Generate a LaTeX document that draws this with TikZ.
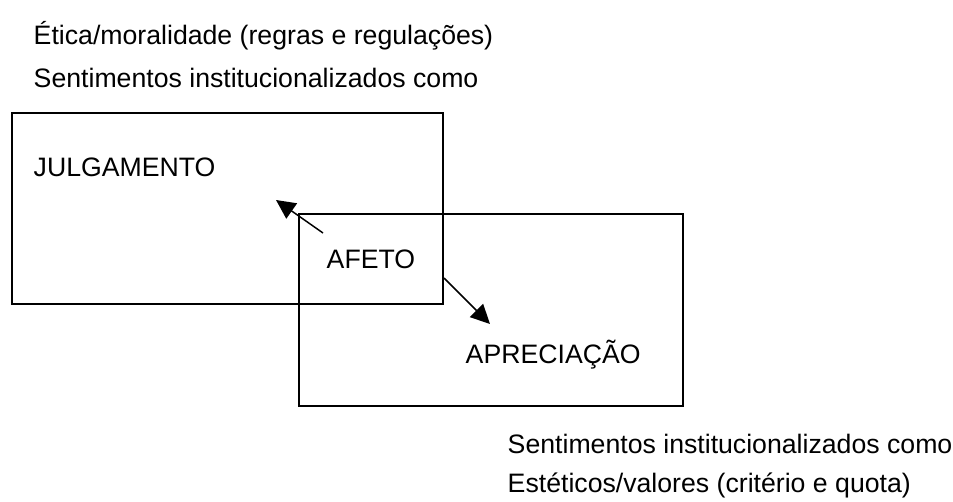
\documentclass[tikz,border=0pt]{standalone}
\usepackage{fontspec}
\setmainfont{Liberation Sans}
\usepackage{tikz}
\usetikzlibrary{arrows.meta,positioning}

\begin{document}
\begin{tikzpicture}[x=1pt,y=1pt,->,>={Triangle[length=14.4pt,width=13.9pt]},line width=1.1pt,
        font=\fontsize{20}{24}\selectfont,
        txt/.style={inner sep=0pt,anchor=base west},
        area/.style={draw,rectangle,inner sep=0pt}]
    \useasboundingbox (0,0) rectangle (714.75,375.75);

    % the two areas
    \node   [area,minimum width=323.25pt,minimum height=143.25pt]   (julgbox) at (170.625,219.375) {};
    \node   [area,minimum width=288pt,minimum height=144pt]         (aprbox)  at (368.25,143.25)   {};

    \node   [txt]   (julg)  at (24.75,243.75)   {JULGAMENTO};
    \node   [txt]   (afeto) at (244.5,174.75)   {AFETO};
    \node   [txt]   (apr)   at (348.75,103.5)   {APRECIAÇÃO};

    % notes above and below
    \node   [txt]                                       (etica) at (24.75,342)  {Ética/moralidade (regras e regulações)};
    \node   [txt,below=32.25pt of etica.base west,anchor=base west]  (sent1)    {Sentimentos institucionalizados como};
    \node   [txt]                                       (sent2) at (380.25,36)  {Sentimentos institucionalizados como};
    \node   [txt,below=29.25pt of sent2.base west,anchor=base west]  (estet)    {Estéticos/valores (critério e quota)};

    \coordinate (jfrom) at (242.25,201);
    \coordinate (jto)   at (207,225.75);
    \coordinate (afrom) at (333,167.25);
    \coordinate (ato)   at (367.5,132.75);

    \path   (jfrom) edge (jto)
            (afrom) edge (ato);
\end{tikzpicture}
\end{document}
